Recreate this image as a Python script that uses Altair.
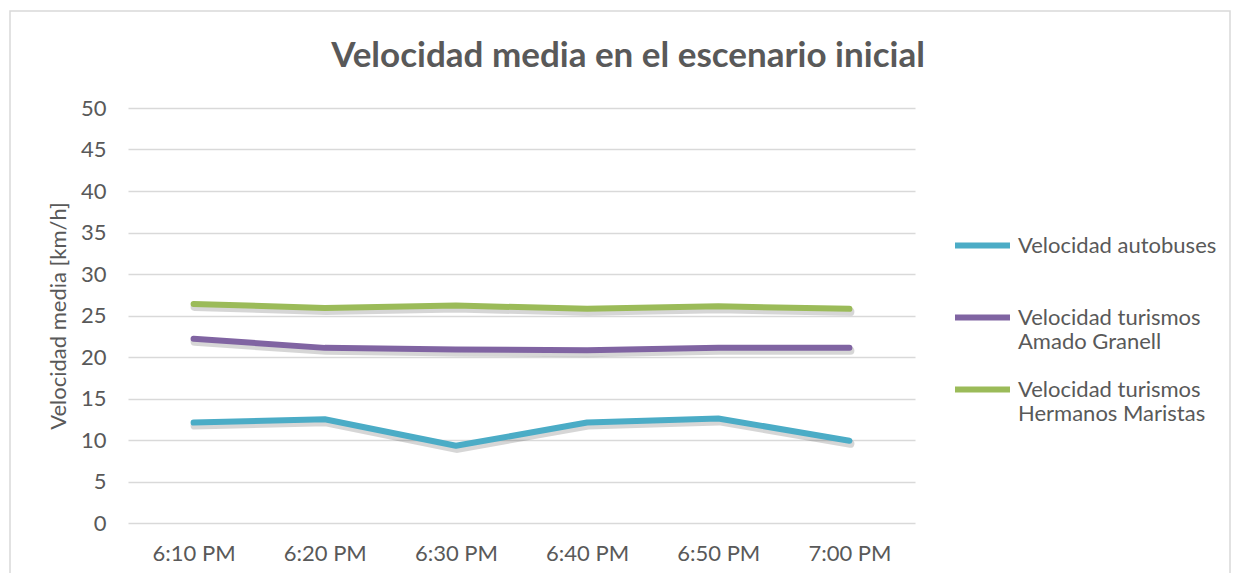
import altair as alt
import pandas as pd

# Average speed per 10-minute interval, initial scenario
times = ["6:10 PM", "6:20 PM", "6:30 PM", "6:40 PM", "6:50 PM", "7:00 PM"]
autobuses = [12.1, 12.5, 9.3, 12.1, 12.6, 9.9]
amado_granell = [22.2, 21.1, 20.9, 20.8, 21.1, 21.1]
hermanos_maristas = [26.4, 25.9, 26.2, 25.8, 26.1, 25.8]

series_names = [
    "Velocidad autobuses",
    "Velocidad turismos Amado Granell",
    "Velocidad turismos Hermanos Maristas",
]
series_colors = ["#4bacc6", "#8064a2", "#9bbb59"]
title_text = "Velocidad media en el escenario inicial"

rows = []
for name, values in zip(series_names, [autobuses, amado_granell, hermanos_maristas]):
    for t, v in zip(times, values):
        rows.append({"Hora": t, "Serie": name, "Velocidad": v})
df = pd.DataFrame(rows)

FONT = "Lato"
GREY = "#595959"
FS = 22
W, H = 787, 415

x_enc = alt.X(
    "Hora:N",
    sort=times,
    scale=alt.Scale(paddingOuter=0.5, paddingInner=1),
    axis=alt.Axis(
        title=None, labelAngle=0, domain=False, ticks=False, grid=False,
        labelPadding=20, labelFontSize=FS, labelColor=GREY, labelFont=FONT,
    ),
)
y_enc = alt.Y(
    "Velocidad:Q",
    scale=alt.Scale(domain=[0, 50], nice=False),
    axis=alt.Axis(
        title="Velocidad media [km/h]", values=list(range(0, 55, 5)),
        domain=False, ticks=False, gridColor="#d9d9d9", gridWidth=1.5,
        labelPadding=22, labelFontSize=FS, labelColor=GREY, labelFont=FONT,
        titleFontSize=FS, titleColor=GREY, titleFont=FONT, titleFontWeight="normal",
        titlePadding=10,
    ),
)

# soft drop shadow under each series
shadow = alt.Chart(df).mark_line(
    strokeWidth=8, yOffset=3, xOffset=1, color="#000000", opacity=0.16, strokeCap="round",
).encode(x=x_enc, y=y_enc, detail="Serie:N")

lines = alt.Chart(df).mark_line(strokeWidth=6, strokeCap="round", strokeJoin="round").encode(
    x=x_enc,
    y=y_enc,
    color=alt.Color(
        "Serie:N",
        scale=alt.Scale(domain=series_names, range=series_colors),
        legend=alt.Legend(
            title=None,
            orient="none",
            legendX=W + 37,
            legendY=107,
            padding=0,
            gridAlign="all",
            symbolType="stroke",
            symbolStrokeWidth=6,
            symbolSize=3025,
            labelFontSize=FS,
            labelColor=GREY,
            labelFont=FONT,
            labelLimit=300,
            rowPadding=6,
            labelOffset=5,
            labelExpr="indexof(datum.label, 'turismos') > 0 ? ['Velocidad turismos', slice(datum.label, 19)] : datum.label",
        ),
    ),
)

one = pd.DataFrame({"t": [title_text]})

# outer chart frame
frame = alt.Chart(one).mark_rect(
    fill=None, stroke="#d9d9d9", strokeWidth=1.5, clip=False,
).encode(
    x=alt.value(-118), x2=alt.value(W + 315), y=alt.value(-97), y2=alt.value(H + 80),
)

# chart heading, centred on the whole figure
heading = alt.Chart(one).mark_text(
    font=FONT, fontSize=35, fontWeight="bold", color=GREY, align="center", baseline="middle",
).encode(text="t:N", x=alt.value(500), y=alt.value(-52))

chart = (
    alt.layer(frame, heading, shadow, lines)
    .properties(
        width=W,
        height=H,
        padding={"left": 128, "top": 108, "right": 1241 - 128 - W, "bottom": 573 - 108 - H},
        autosize=alt.AutoSizeParams(type="none"),
    )
    .configure(background="white")
    .configure_view(strokeWidth=0, stroke=None)
)

chart.save("out.html", embed_options={"renderer": "svg", "actions": False})
